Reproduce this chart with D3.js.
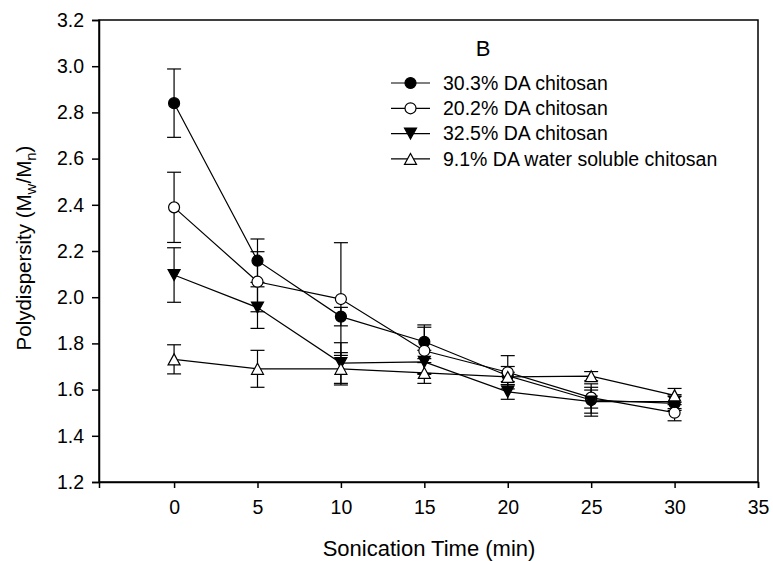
<!DOCTYPE html>
<html>
<head>
<meta charset="utf-8">
<script src="https://cdn.jsdelivr.net/npm/d3@7"></script>
<style>
  html, body { margin: 0; padding: 0; background: #fff; }
  svg { display: block; }
  text { font-family: Arial, "Liberation Sans", sans-serif; fill: #000; }
</style>
</head>
<body>
<svg id="chart" width="773" height="561"></svg>
<script>
// Sonication time (min)
const times = [0, 5, 10, 15, 20, 25, 30];

// Polydispersity (Mw/Mn) means and standard deviations per sample
const da303 = [2.840, 2.158, 1.916, 1.807, 1.660, 1.555, 1.540];
const da303Err = [0.148, 0.094, 0.040, 0.073, 0.040, 0.070, 0.030];

const da202 = [2.389, 2.067, 1.992, 1.768, 1.675, 1.565, 1.500];
const da202Err = [0.152, 0.130, 0.244, 0.102, 0.072, 0.045, 0.035];

const da325 = [2.096, 1.955, 1.715, 1.720, 1.590, 1.548, 1.548];
const da325Err = [0.118, 0.090, 0.088, 0.050, 0.032, 0.050, 0.030];

const da91 = [1.731, 1.690, 1.690, 1.672, 1.655, 1.658, 1.575];
const da91Err = [0.063, 0.080, 0.070, 0.045, 0.020, 0.020, 0.030];

const seriesNames = [
  "30.3% DA chitosan",
  "20.2% DA chitosan",
  "32.5% DA chitosan",
  "9.1% DA water soluble chitosan"
];
const seriesSymbols = ["circleFilled", "circleOpen", "triDown", "triUp"];

const xTicks = [0, 5, 10, 15, 20, 25, 30, 35];
const yTicks = [1.2, 1.4, 1.6, 1.8, 2.0, 2.2, 2.4, 2.6, 2.8, 3.0, 3.2];

const series = [
  { name: seriesNames[0], sym: seriesSymbols[0], values: da303, errs: da303Err },
  { name: seriesNames[1], sym: seriesSymbols[1], values: da202, errs: da202Err },
  { name: seriesNames[2], sym: seriesSymbols[2], values: da325, errs: da325Err },
  { name: seriesNames[3], sym: seriesSymbols[3], values: da91, errs: da91Err }
];

const svg = d3.select("#chart");
const plotLeft = 99, plotRight = 758, plotTop = 20, plotBottom = 482;

const x = d3.scaleLinear().domain([-4.5, 35]).range([plotLeft, plotRight]);
const y = d3.scaleLinear().domain([1.2, 3.2]).range([plotBottom, plotTop]);

// Frame
svg.append("rect")
  .attr("x", plotLeft).attr("y", plotTop)
  .attr("width", plotRight - plotLeft).attr("height", plotBottom - plotTop)
  .attr("fill", "none").attr("stroke", "#000").attr("stroke-width", 1.5);

// Axes
const xAxis = svg.append("g")
  .attr("transform", `translate(0,${plotBottom})`)
  .call(d3.axisBottom(x).tickValues(xTicks).tickSize(6).tickPadding(12).tickFormat(d3.format("d")));
const yAxis = svg.append("g")
  .attr("transform", `translate(${plotLeft},0)`)
  .call(d3.axisLeft(y).tickValues(yTicks).tickSize(7).tickPadding(8).tickFormat(d3.format(".1f")));

[xAxis, yAxis].forEach(g => {
  g.select(".domain").attr("stroke", "#000").attr("stroke-width", 1.5);
  g.selectAll(".tick line").attr("stroke", "#000").attr("stroke-width", 1.5);
  g.selectAll(".tick text")
    .attr("font-family", "Arial, 'Liberation Sans', sans-serif")
    .attr("font-size", 19.5).attr("fill", "#000");
});

// Axis titles
svg.append("text")
  .attr("x", 429).attr("y", 556)
  .attr("text-anchor", "middle").attr("font-size", 22)
  .text("Sonication Time (min)");

const yTitle = svg.append("text")
  .attr("transform", "translate(31,248) rotate(-90)")
  .attr("text-anchor", "middle").attr("font-size", 20.5);
yTitle.append("tspan").text("Polydispersity (M");
yTitle.append("tspan").attr("font-size", 15).attr("dy", 5).text("w");
yTitle.append("tspan").attr("dy", -5).text("/M");
yTitle.append("tspan").attr("font-size", 15).attr("dy", 5).text("n");
yTitle.append("tspan").attr("dy", -5).text(")");

// Panel letter
svg.append("text")
  .attr("x", 483).attr("y", 56)
  .attr("text-anchor", "middle").attr("font-size", 22)
  .text("B");

// Marker drawing
function drawSymbol(g, sym, cx, cy) {
  if (sym === "circleFilled" || sym === "circleOpen") {
    g.append("circle")
      .attr("cx", cx).attr("cy", cy).attr("r", 5.5)
      .attr("fill", sym === "circleFilled" ? "#000" : "#fff")
      .attr("stroke", "#000").attr("stroke-width", 1.2);
  } else {
    const w = 6, h = 5.5;
    const pts = sym === "triDown"
      ? [[cx - w, cy - h], [cx + w, cy - h], [cx, cy + h]]
      : [[cx - w, cy + h], [cx + w, cy + h], [cx, cy - h]];
    g.append("polygon")
      .attr("points", pts.map(p => p.join(",")).join(" "))
      .attr("fill", sym === "triDown" ? "#000" : "#fff")
      .attr("stroke", "#000").attr("stroke-width", 1.2);
  }
}

const line = d3.line().x(d => x(d.t)).y(d => y(d.v));
const plot = svg.append("g");

// Lines and error bars first, then symbols on top
series.forEach(s => {
  const pts = times.map((t, i) => ({ t, v: s.values[i], e: s.errs[i] }));
  plot.append("path").datum(pts)
    .attr("d", line).attr("fill", "none")
    .attr("stroke", "#000").attr("stroke-width", 1.2);
  pts.forEach(p => {
    const cx = x(p.t), y1 = y(p.v + p.e), y2 = y(p.v - p.e);
    plot.append("line").attr("x1", cx).attr("x2", cx).attr("y1", y1).attr("y2", y2)
      .attr("stroke", "#000").attr("stroke-width", 1.2);
    [y1, y2].forEach(yy => plot.append("line")
      .attr("x1", cx - 7).attr("x2", cx + 7).attr("y1", yy).attr("y2", yy)
      .attr("stroke", "#000").attr("stroke-width", 1.2));
  });
});
series.forEach(s => {
  times.forEach((t, i) => drawSymbol(plot, s.sym, x(t), y(s.values[i])));
});

// Legend
const legend = svg.append("g");
series.forEach((s, i) => {
  const ly = 83 + i * 25.3;
  legend.append("line").attr("x1", 391).attr("x2", 430).attr("y1", ly).attr("y2", ly)
    .attr("stroke", "#000").attr("stroke-width", 1.2);
  drawSymbol(legend, s.sym, 410.5, ly);
  legend.append("text").attr("x", 443).attr("y", ly + 6.7)
    .attr("font-size", 19.5).text(s.name);
});
</script>
</body>
</html>
